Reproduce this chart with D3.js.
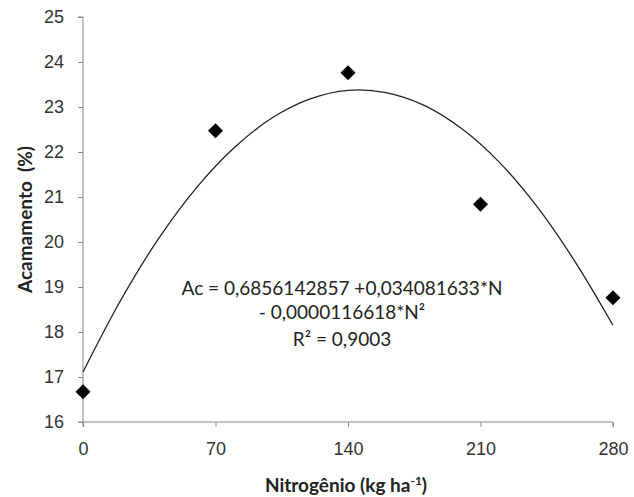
<!DOCTYPE html>
<html>
<head>
<meta charset="utf-8">
<script src="https://cdn.jsdelivr.net/npm/d3@7"></script>
<style>
  body { margin: 0; background: #fff; }
  svg { display: block; font-family: Lato, "Open Sans", sans-serif; }
  .axis path, .axis line { stroke: #8a8a8a; }
  .axis text { fill: #333; font-size: 18px; }
</style>
</head>
<body>
<div class="chartContainer"></div>
<script>
// observed values
const doses = [0, 70, 140, 210, 280];
const acamamento = [16.67, 22.47, 23.76, 20.84, 18.76];

// fitted curve
const curveN = [0, 20, 40, 60, 80, 100, 120, 140, 160, 180, 200, 220, 240, 260, 280];
const curveAc = [17.11, 18.71, 20.08, 21.21, 22.10, 22.76, 23.18, 23.37, 23.32, 23.04, 22.52, 21.77, 20.78, 19.56, 18.15];

const xTicks = [0, 70, 140, 210, 280];
const yTicks = [16, 17, 18, 19, 20, 21, 22, 23, 24, 25];

const eqLines = ["Ac = 0,6856142857 +0,034081633*N", "- 0,0000116618*N²", "R² = 0,9003"];

window.addEventListener("load", () => {
  drawChart();
});

function drawChart() {
  const margin = { top: 17, right: 21, bottom: 75, left: 83 },
    width = 634 - margin.left - margin.right,
    height = 497 - margin.top - margin.bottom;

  const x = d3.scaleLinear().domain([0, 280]).range([0, width]);
  const y = d3.scaleLinear().domain([16, 25]).range([height, 0]);

  const svg = d3.select(".chartContainer")
    .append("svg")
    .attr("width", 634)
    .attr("height", 497)
    .append("g")
    .attr("transform", "translate(" + margin.left + "," + margin.top + ")");

  // axes
  const xAxis = d3.axisBottom(x).tickValues(xTicks).tickSize(5).tickPadding(15);
  const yAxis = d3.axisLeft(y).tickValues(yTicks).tickSize(5).tickPadding(14);

  svg.append("g")
    .attr("class", "x axis")
    .attr("transform", "translate(0," + height + ")")
    .call(xAxis)
    .call(g => g.select(".domain").attr("d", "M0,5V0H" + width + "V5"));

  svg.append("g")
    .attr("class", "y axis")
    .call(yAxis)
    .call(g => g.select(".domain").attr("d", "M-5,0H0V" + height + "H-5"));

  // axis titles
  const xt = svg.append("text")
    .attr("x", width / 2 - 2)
    .attr("y", height + 70)
    .attr("text-anchor", "middle")
    .style("font-size", "19px")
    .style("font-weight", "bold")
    .style("fill", "#222");
  xt.append("tspan").text("Nitrogênio (kg ha");
  xt.append("tspan").attr("dy", -7).style("font-size", "12px").text("-1");
  xt.append("tspan").attr("dy", 7).text(")");

  svg.append("text")
    .attr("transform", "translate(-51," + (height / 2) + ") rotate(-90)")
    .attr("text-anchor", "middle")
    .style("font-size", "19px")
    .style("font-weight", "bold")
    .style("fill", "#222")
    .style("white-space", "pre")
    .text("Acamamento  (%)");

  // fitted curve
  const line = d3.line()
    .x((d, i) => x(curveN[i]))
    .y(d => y(d))
    .curve(d3.curveCatmullRom);

  svg.append("path")
    .datum(curveAc)
    .attr("fill", "none")
    .attr("stroke", "#222")
    .attr("stroke-width", 1.3)
    .attr("d", line);

  // data points
  const diamond = d3.symbol().type(d3.symbolSquare).size(112);
  svg.selectAll(".pt")
    .data(acamamento)
    .enter()
    .append("path")
    .attr("class", "pt")
    .attr("d", diamond)
    .attr("fill", "#000")
    .attr("transform", (d, i) => "translate(" + x(doses[i]) + "," + y(d) + ") rotate(45)");

  // equation
  const eq = svg.append("g")
    .attr("transform", "translate(" + (342 - margin.left) + ",0)")
    .style("font-size", "19px")
    .style("fill", "#222")
    .attr("text-anchor", "middle");
  const eqY = [271, 295, 322];
  eq.selectAll("text")
    .data(eqLines)
    .enter()
    .append("text")
    .attr("y", (d, i) => eqY[i])
    .attr("dy", "0.35em")
    .text(d => d);
}
</script>
</body>
</html>
